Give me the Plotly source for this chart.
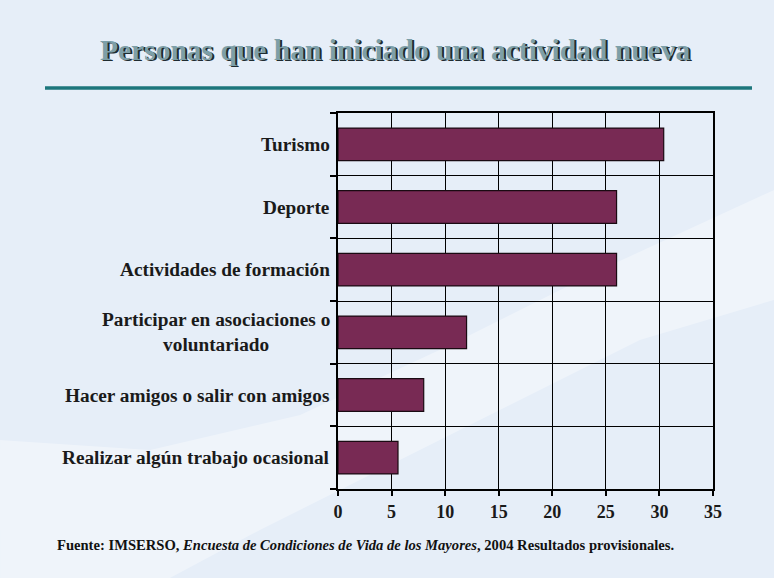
import plotly.graph_objects as go

categories = ["Turismo", "Deporte", "Actividades de formación",
              "Participar en asociaciones o<br>voluntariado",
              "Hacer amigos o salir con amigos",
              "Realizar algún trabajo ocasional"]
values = [30.4, 26.0, 26.0, 12.0, 8.0, 5.6]
x_ticks = [0, 5, 10, 15, 20, 25, 30, 35]

title_text = "Personas que han iniciado una actividad nueva"
source_text = ("Fuente: IMSERSO, <i>Encuesta de Condiciones de Vida de los Mayores</i>, "
               "2004 Resultados provisionales.")

positions = list(range(len(categories)))
serif = "Liberation Serif, DejaVu Serif, serif"

# figure geometry (pixels) used to place decorations in paper coordinates
W, H, L, R, T, B = 774, 578, 338, 61, 113, 89
pw, ph = W - L - R, H - T - B


def px(xp):
    return (xp - L) / pw


def py(yp):
    return (H - B - yp) / ph


fig = go.Figure()
fig.add_trace(go.Bar(
    x=values, y=positions, orientation="h", width=0.52,
    marker=dict(color="#782a54", line=dict(color="#1a0a12", width=1.2)),
    hoverinfo="x",
))

# category labels
for p, c in zip(positions, categories):
    fig.add_annotation(x=-0.017, xref="paper", y=p, yref="y", text=c,
                       showarrow=False, xanchor="right", yanchor="middle", align="center",
                       font=dict(family=serif, size=19.3, color="#1a1a1a", weight="bold"))

# title with shadow
for dx, dy, col in [(1.5, -1.5, "#1e2b30"), (0, 0, "#7d9fa8")]:
    fig.add_annotation(x=px(395), xref="paper", y=py(50), yref="paper",
                       xanchor="center", yanchor="middle",
                       text=title_text, showarrow=False,
                       xshift=dx, yshift=dy,
                       font=dict(family=serif, size=29.5, color=col, weight="bold"))

fig.add_annotation(x=px(55), xref="paper", y=py(545), yref="paper",
                   xanchor="left", yanchor="middle",
                   text=source_text, showarrow=False,
                   font=dict(family=serif, size=14.6, color="#111", weight="bold"))

# line below title
fig.add_shape(type="line", xref="paper", yref="paper", x0=px(45), x1=px(752),
              y0=py(88), y1=py(88), line=dict(color="#1d767c", width=3.5))

# faint background swoosh
swoosh = [(0, 578), (0, 440), (150, 450), (300, 415), (450, 345), (600, 270), (774, 190),
          (774, 300), (640, 340), (520, 400), (400, 460), (260, 530), (170, 578)]
path = "M " + " L ".join(f"{px(a):.4f},{py(b):.4f}" for a, b in swoosh) + " Z"
fig.add_shape(type="path", xref="paper", yref="paper", path=path, layer="below",
              fillcolor="rgba(255,255,255,0.35)", line=dict(width=0))

fig.update_layout(
    width=W, height=H,
    margin=dict(l=L, r=R, t=T, b=B),
    paper_bgcolor="#e6eef8", plot_bgcolor="rgba(0,0,0,0)",
    showlegend=False,
    xaxis=dict(range=[0, 35], tickvals=x_ticks, showgrid=True, gridcolor="black",
               gridwidth=1.2, zeroline=False, showline=True, mirror=True,
               linecolor="black", linewidth=2, ticks="outside", ticklen=5,
               tickcolor="black", tickwidth=1.5,
               tickfont=dict(family=serif, size=18, color="#1a1a1a", weight="bold")),
    yaxis=dict(range=[len(categories) - 0.5, -0.5],
               tickvals=[p - 0.5 for p in positions] + [len(categories) - 0.5],
               showticklabels=False, showgrid=True, gridcolor="black", gridwidth=1.2,
               zeroline=False, showline=True, mirror=True, linecolor="black",
               linewidth=2, ticks="outside", ticklen=6, tickcolor="black",
               tickwidth=1.5),
)

fig.write_html("out.html", config={"displayModeBar": False},
               post_script="document.body.style.margin='0px';")
